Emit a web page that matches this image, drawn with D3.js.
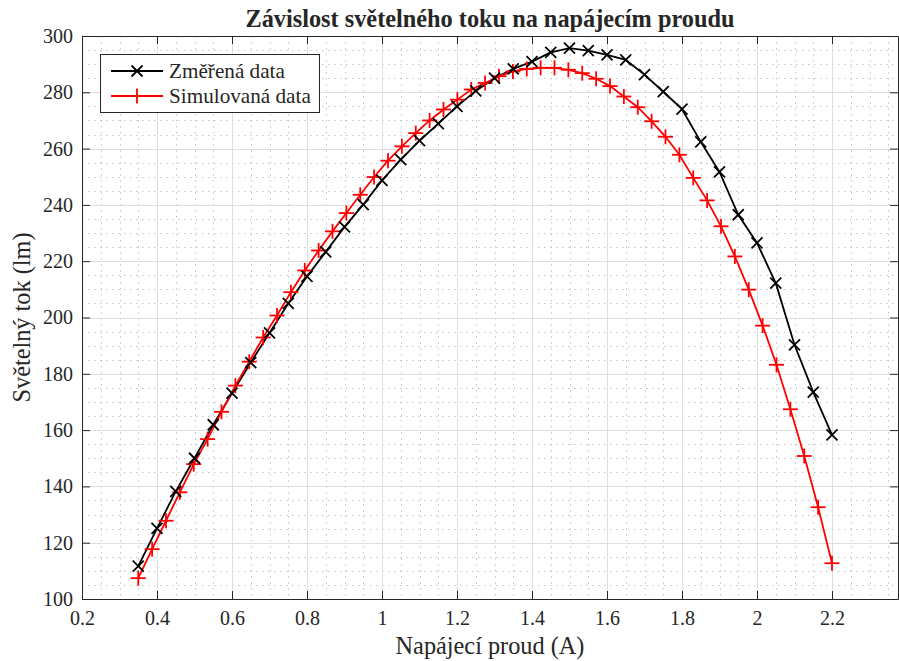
<!DOCTYPE html>
<html>
<head>
<meta charset="utf-8">
<script src="https://cdn.jsdelivr.net/npm/d3@7"></script>
<style>
  html, body { margin: 0; padding: 0; background: #fff; }
  svg { display: block; }
  svg text { font-family: "Liberation Serif", "Times New Roman", Tinos, "DejaVu Serif", serif !important; fill: #262626; }
</style>
</head>
<body>
<svg id="chart" width="899" height="661"></svg>
<script>
// Measured luminous flux (lm) vs. supply current (A)
const measuredCurrent = [0.35, 0.40, 0.45, 0.50, 0.55, 0.60, 0.65, 0.70, 0.75, 0.80,
  0.85, 0.90, 0.95, 1.00, 1.05, 1.10, 1.15, 1.20, 1.25, 1.30,
  1.35, 1.40, 1.45, 1.50, 1.55, 1.60, 1.65, 1.70, 1.75, 1.80,
  1.85, 1.90, 1.95, 2.00, 2.05, 2.10, 2.15, 2.20];
const measuredFlux = [111.7, 125.1, 138.2, 150.0, 161.9, 173.1, 184.0, 194.5, 205.0, 214.6,
  223.3, 232.2, 240.1, 248.7, 256.1, 262.8, 268.9, 275.0, 280.5, 285.0,
  288.3, 290.9, 294.2, 295.7, 294.8, 293.3, 291.5, 286.3, 280.2, 274.0,
  262.4, 251.7, 236.5, 226.5, 212.2, 190.3, 173.5, 158.3];

// Simulated luminous flux
const simulatedCurrent = [0.350, 0.387, 0.424, 0.461, 0.498, 0.535, 0.572, 0.609, 0.646, 0.683,
  0.720, 0.757, 0.794, 0.831, 0.868, 0.905, 0.942, 0.979, 1.016, 1.053,
  1.090, 1.127, 1.164, 1.201, 1.238, 1.275, 1.312, 1.349, 1.386, 1.423,
  1.460, 1.497, 1.534, 1.571, 1.608, 1.645, 1.682, 1.719, 1.756, 1.793,
  1.830, 1.867, 1.904, 1.941, 1.978, 2.015, 2.052, 2.089, 2.126, 2.163, 2.200];
const simulatedFlux = [107.4, 117.7, 127.8, 137.9, 147.9, 156.8, 166.5, 175.8, 184.3, 192.9,
  200.7, 209.0, 216.7, 223.8, 230.6, 237.1, 243.6, 249.9, 255.7, 260.8,
  265.5, 270.0, 273.9, 277.4, 281.0, 283.3, 285.7, 287.4, 288.3, 288.7,
  288.7, 288.0, 286.8, 284.8, 282.2, 278.5, 274.7, 269.7, 264.2, 257.8,
  249.6, 241.6, 232.4, 221.7, 209.9, 197.1, 183.2, 167.4, 150.8, 132.6, 112.7];

const xTicks = [0.2, 0.4, 0.6, 0.8, 1.0, 1.2, 1.4, 1.6, 1.8, 2.0, 2.2];
const yTicks = [100, 120, 140, 160, 180, 200, 220, 240, 260, 280, 300];
const xDomain = [0.2, 2.376];
const yDomain = [100, 300];

const titleText = "Závislost světelného toku na napájecím proudu";
const xLabel = "Napájecí proud (A)";
const yLabel = "Světelný tok (lm)";
const seriesNames = ["Změřená data", "Simulovaná data"];

const FONT = '"Liberation Serif", "Times New Roman", Tinos, "DejaVu Serif", serif';

const svg = d3.select("#chart");
const m = { left: 82, right: 1, top: 36, bottom: 62 };
const W = 899, H = 661;
const iw = W - m.left - m.right, ih = H - m.top - m.bottom;

const x = d3.scaleLinear().domain(xDomain).range([0, iw]);
const y = d3.scaleLinear().domain(yDomain).range([ih, 0]);

const g = svg.append("g").attr("transform", `translate(${m.left},${m.top})`);

// minor grid (dotted)
const xMinor = d3.range(0.25, 2.376, 0.05).filter(v => Math.abs(Math.round(v * 5) - v * 5) > 1e-6);
const yMinor = d3.range(105, 300, 5).filter(v => v % 20 !== 0);
g.append("g").selectAll("line").data(xMinor).join("line")
  .attr("x1", d => Math.round(x(d)) + 0.5).attr("x2", d => Math.round(x(d)) + 0.5)
  .attr("y1", 0).attr("y2", ih)
  .attr("stroke", "#c4c4c4").attr("stroke-width", 1).attr("stroke-dasharray", "1.5,4.5");
g.append("g").selectAll("line").data(yMinor).join("line")
  .attr("y1", d => Math.round(y(d)) + 0.5).attr("y2", d => Math.round(y(d)) + 0.5)
  .attr("x1", 0).attr("x2", iw)
  .attr("stroke", "#c4c4c4").attr("stroke-width", 1).attr("stroke-dasharray", "1.5,4.5");

// major grid
g.append("g").selectAll("line").data(xTicks.slice(1)).join("line")
  .attr("x1", d => Math.round(x(d)) + 0.5).attr("x2", d => Math.round(x(d)) + 0.5)
  .attr("y1", 0).attr("y2", ih).attr("stroke", "#dedede").attr("stroke-width", 1);
g.append("g").selectAll("line").data(yTicks.slice(1, -1)).join("line")
  .attr("y1", d => Math.round(y(d)) + 0.5).attr("y2", d => Math.round(y(d)) + 0.5)
  .attr("x1", 0).attr("x2", iw).attr("stroke", "#dedede").attr("stroke-width", 1);

// axes with inward ticks
const tickLen = 8;
const fmt = d => String(+d.toFixed(1));
const xAxis = g.append("g").attr("transform", `translate(0,${ih})`)
  .call(d3.axisBottom(x).tickValues(xTicks).tickFormat(fmt).tickSizeInner(-tickLen).tickSizeOuter(0).tickPadding(12));
const xAxisTop = g.append("g")
  .call(d3.axisTop(x).tickValues(xTicks).tickFormat("").tickSizeInner(-tickLen).tickSizeOuter(0));
const yAxis = g.append("g")
  .call(d3.axisLeft(y).tickValues(yTicks).tickFormat(d3.format("d")).tickSizeInner(-tickLen).tickSizeOuter(0).tickPadding(9));
const yAxisRight = g.append("g").attr("transform", `translate(${iw},0)`)
  .call(d3.axisRight(y).tickValues(yTicks).tickFormat("").tickSizeInner(-tickLen).tickSizeOuter(0));
[xAxis, xAxisTop, yAxis, yAxisRight].forEach(a => {
  a.attr("font-family", FONT).attr("font-size", 20);
  a.select(".domain").attr("stroke", "#262626").attr("stroke-width", 1);
  a.selectAll(".tick line").attr("stroke", "#262626").attr("stroke-width", 1);
  a.selectAll("text").attr("font-size", 20).attr("fill", "#262626");
});

// series
const line = d3.line().x(d => x(d[0])).y(d => y(d[1]));
const measured = measuredCurrent.map((c, i) => [c, measuredFlux[i]]);
const simulated = simulatedCurrent.map((c, i) => [c, simulatedFlux[i]]);

const plot = g.append("g");
plot.append("path").datum(measured).attr("d", line)
  .attr("fill", "none").attr("stroke", "#000").attr("stroke-width", 1.8);
plot.append("path").datum(simulated).attr("d", line)
  .attr("fill", "none").attr("stroke", "#ff0000").attr("stroke-width", 1.8);

const xr = 5.5, pr = 7.5;
function crossMarker(sel, r) {
  sel.append("line").attr("x1", -r).attr("y1", -r).attr("x2", r).attr("y2", r);
  sel.append("line").attr("x1", -r).attr("y1", r).attr("x2", r).attr("y2", -r);
}
function plusMarker(sel, r) {
  sel.append("line").attr("x1", -r).attr("y1", 0).attr("x2", r).attr("y2", 0);
  sel.append("line").attr("x1", 0).attr("y1", -r).attr("x2", 0).attr("y2", r);
}
plot.append("g").selectAll("g").data(simulated).join("g")
  .attr("transform", d => `translate(${x(d[0])},${y(d[1])})`)
  .attr("stroke", "#ff0000").attr("stroke-width", 1.8)
  .each(function () { plusMarker(d3.select(this), pr); });
plot.append("g").selectAll("g").data(measured).join("g")
  .attr("transform", d => `translate(${x(d[0])},${y(d[1])})`)
  .attr("stroke", "#000").attr("stroke-width", 1.8)
  .each(function () { crossMarker(d3.select(this), xr); });

// legend
const lg = g.append("g").attr("transform", "translate(18,18)");
lg.append("rect").attr("x", 0.5).attr("y", 0.5).attr("width", 219).attr("height", 58)
  .attr("fill", "#fff").attr("stroke", "#262626").attr("stroke-width", 1);
const legendItems = [
  { name: seriesNames[0], color: "#000", marker: crossMarker, r: xr },
  { name: seriesNames[1], color: "#ff0000", marker: plusMarker, r: pr }
];
legendItems.forEach((it, i) => {
  const row = lg.append("g").attr("transform", `translate(0,${17 + i * 25})`);
  row.append("line").attr("x1", 11).attr("x2", 63).attr("y1", 0).attr("y2", 0)
    .attr("stroke", it.color).attr("stroke-width", 1.8);
  const mk = row.append("g").attr("transform", "translate(37,0)")
    .attr("stroke", it.color).attr("stroke-width", 1.8);
  it.marker(mk, it.r);
  row.append("text").attr("x", 69).attr("y", 0).attr("dy", "0.35em")
    .attr("font-family", FONT).attr("font-size", 21.2).attr("fill", "#000").text(it.name);
});

// titles
svg.append("text").attr("x", m.left + iw / 2).attr("y", 26.5).attr("text-anchor", "middle")
  .attr("font-family", FONT).attr("font-size", 24.3).attr("font-weight", "bold").attr("fill", "#000").text(titleText);
svg.append("text").attr("x", m.left + iw / 2).attr("y", 654).attr("text-anchor", "middle")
  .attr("font-family", FONT).attr("font-size", 24.3).text(xLabel);
svg.append("text").attr("transform", `translate(30,${m.top + ih / 2}) rotate(-90)`)
  .attr("font-family", FONT).attr("text-anchor", "middle").attr("font-size", 24.3).text(yLabel);
</script>
</body>
</html>
